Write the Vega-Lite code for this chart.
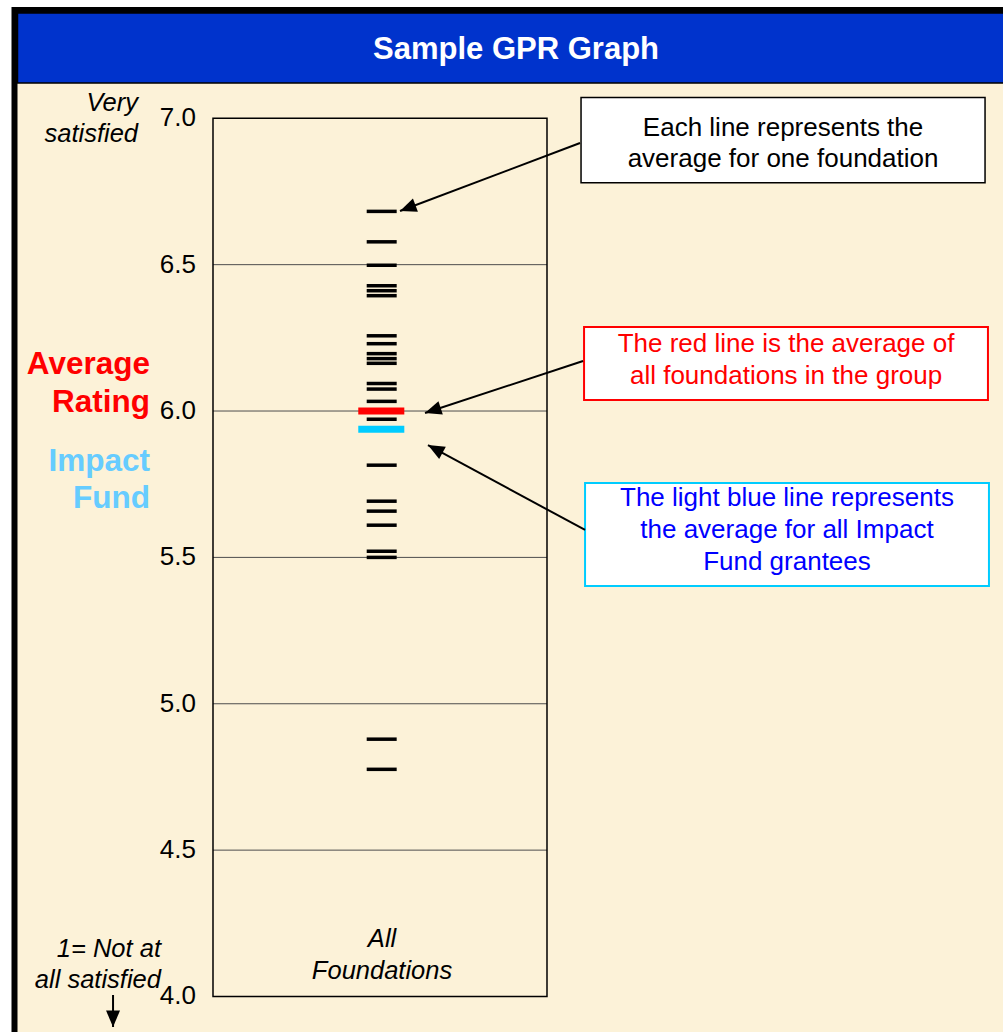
{
  "$schema": "https://vega.github.io/schema/vega-lite/v6.json",
  "width": 1003,
  "height": 1032,
  "autosize": {"type": "none"},
  "padding": 0,
  "background": "white",
  "config": {"view": {"stroke": null}, "font": "Liberation Sans"},
  "encoding": {
    "x": {"field": "x", "type": "quantitative", "scale": {"domain": [0, 100], "nice": false, "zero": false}, "axis": null},
    "y": {"field": "y", "type": "quantitative", "scale": {"domain": [3.8787, 7.4041], "nice": false, "zero": false}, "axis": null}
  },
  "layer": [
    {
      "data": {"values": [{"x": 1.446, "x2": 100.7, "y": 7.3699, "y2": 3.8514}]},
      "mark": {"type": "rect", "fill": "#FCF2D8", "stroke": "#000000", "strokeWidth": 6},
      "encoding": {"x2": {"field": "x2"}, "y2": {"field": "y2"}}
    },
    {
      "data": {"values": [{"x": 1.745, "x2": 100.7, "y": 7.3597, "y2": 7.1206}]},
      "mark": {"type": "rect", "fill": "#0033CC", "stroke": "#000000", "strokeWidth": 1.5},
      "encoding": {"x2": {"field": "x2"}, "y2": {"field": "y2"}}
    },
    {
      "data": {"values": [{"x": 51.45, "y": 7.2333, "label": "Sample GPR Graph"}]},
      "mark": {"type": "text", "color": "white", "fontSize": 31, "fontWeight": "bold", "align": "center", "baseline": "middle"},
      "encoding": {"text": {"field": "label"}}
    },
    {
      "data": {"values": [
        {"x": 21.236, "x2": 54.536, "y": 6.5},
        {"x": 21.236, "x2": 54.536, "y": 6.0},
        {"x": 21.236, "x2": 54.536, "y": 5.5},
        {"x": 21.236, "x2": 54.536, "y": 5.0},
        {"x": 21.236, "x2": 54.536, "y": 4.5}
      ]},
      "mark": {"type": "rule", "color": "#4d4d4d", "strokeWidth": 1},
      "encoding": {"x2": {"field": "x2"}}
    },
    {
      "data": {"values": [{"x": 21.236, "x2": 54.536, "y": 7.0, "y2": 4.0}]},
      "mark": {"type": "rect", "fill": null, "fillOpacity": 0, "stroke": "#000000", "strokeWidth": 1.5},
      "encoding": {"x2": {"field": "x2"}, "y2": {"field": "y2"}}
    },
    {
      "data": {"values": [
        {"x": 19.541, "y": 7.0, "label": "7.0"},
        {"x": 19.541, "y": 6.5, "label": "6.5"},
        {"x": 19.541, "y": 6.0, "label": "6.0"},
        {"x": 19.541, "y": 5.5, "label": "5.5"},
        {"x": 19.541, "y": 5.0, "label": "5.0"},
        {"x": 19.541, "y": 4.5, "label": "4.5"},
        {"x": 19.541, "y": 4.0, "label": "4.0"}
      ]},
      "mark": {"type": "text", "color": "#000000", "fontSize": 26, "align": "right", "baseline": "middle"},
      "encoding": {"text": {"field": "label"}}
    },
    {
      "data": {"values": [
        {"x": 36.56, "x2": 39.55, "y": 6.682}, {"x": 36.56, "x2": 39.55, "y": 6.578},
        {"x": 36.56, "x2": 39.55, "y": 6.498}, {"x": 36.56, "x2": 39.55, "y": 6.428},
        {"x": 36.56, "x2": 39.55, "y": 6.411}, {"x": 36.56, "x2": 39.55, "y": 6.394},
        {"x": 36.56, "x2": 39.55, "y": 6.257}, {"x": 36.56, "x2": 39.55, "y": 6.230},
        {"x": 36.56, "x2": 39.55, "y": 6.196}, {"x": 36.56, "x2": 39.55, "y": 6.179},
        {"x": 36.56, "x2": 39.55, "y": 6.163}, {"x": 36.56, "x2": 39.55, "y": 6.094},
        {"x": 36.56, "x2": 39.55, "y": 6.075}, {"x": 36.56, "x2": 39.55, "y": 6.033},
        {"x": 36.56, "x2": 39.55, "y": 5.972}, {"x": 36.56, "x2": 39.55, "y": 5.815},
        {"x": 36.56, "x2": 39.55, "y": 5.692}, {"x": 36.56, "x2": 39.55, "y": 5.658},
        {"x": 36.56, "x2": 39.55, "y": 5.610}, {"x": 36.56, "x2": 39.55, "y": 5.521},
        {"x": 36.56, "x2": 39.55, "y": 5.500}, {"x": 36.56, "x2": 39.55, "y": 4.879},
        {"x": 36.56, "x2": 39.55, "y": 4.776}
      ]},
      "mark": {"type": "rule", "color": "#000000", "strokeWidth": 3.5},
      "encoding": {"x2": {"field": "x2"}}
    },
    {
      "data": {"values": [{"x": 35.72, "x2": 40.31, "y": 6.0}]},
      "mark": {"type": "rule", "color": "#FF0000", "strokeWidth": 7},
      "encoding": {"x2": {"field": "x2"}}
    },
    {
      "data": {"values": [{"x": 35.72, "x2": 40.31, "y": 5.938}]},
      "mark": {"type": "rule", "color": "#00CCFF", "strokeWidth": 7},
      "encoding": {"x2": {"field": "x2"}}
    },
    {
      "data": {"values": [{"x": 13.76, "y": 7.0523, "label": "Very\nsatisfied"}]},
      "mark": {"type": "text", "color": "#000000", "fontSize": 25.5, "fontStyle": "italic", "align": "right", "baseline": "middle", "lineBreak": "\n", "lineHeight": 31},
      "encoding": {"text": {"field": "label"}}
    },
    {
      "data": {"values": [{"x": 14.955, "y": 6.1572, "label": "Average\nRating"}]},
      "mark": {"type": "text", "color": "#FF0000", "fontSize": 31.5, "fontWeight": "bold", "align": "right", "baseline": "middle", "lineBreak": "\n", "lineHeight": 38},
      "encoding": {"text": {"field": "label"}}
    },
    {
      "data": {"values": [{"x": 14.955, "y": 5.8259, "label": "Impact\nFund"}]},
      "mark": {"type": "text", "color": "#66CCFF", "fontSize": 31.5, "fontWeight": "bold", "align": "right", "baseline": "middle", "lineBreak": "\n", "lineHeight": 37},
      "encoding": {"text": {"field": "label"}}
    },
    {
      "data": {"values": [{"x": 16.05, "y": 4.1622, "label": "1= Not at\nall satisfied"}]},
      "mark": {"type": "text", "color": "#000000", "fontSize": 25.5, "fontStyle": "italic", "align": "right", "baseline": "middle", "lineBreak": "\n", "lineHeight": 31},
      "encoding": {"text": {"field": "label"}}
    },
    {
      "data": {"values": [{"x": 38.09, "y": 4.1965, "label": "All\nFoundations"}]},
      "mark": {"type": "text", "color": "#000000", "fontSize": 25.5, "fontStyle": "italic", "align": "center", "baseline": "middle", "lineBreak": "\n", "lineHeight": 32},
      "encoding": {"text": {"field": "label"}}
    },
    {
      "data": {"values": [{"x": 57.93, "x2": 98.21, "y": 7.0710, "y2": 6.7800}]},
      "mark": {"type": "rect", "fill": "#FFFFFF", "stroke": "#000000", "strokeWidth": 1.5},
      "encoding": {"x2": {"field": "x2"}, "y2": {"field": "y2"}}
    },
    {
      "data": {"values": [{"x": 58.23, "x2": 98.50, "y": 6.2870, "y2": 6.0377}]},
      "mark": {"type": "rect", "fill": "#FFFFFF", "stroke": "#FF0000", "strokeWidth": 2},
      "encoding": {"x2": {"field": "x2"}, "y2": {"field": "y2"}}
    },
    {
      "data": {"values": [{"x": 58.33, "x2": 98.60, "y": 5.7541, "y2": 5.4022}]},
      "mark": {"type": "rect", "fill": "#FFFFFF", "stroke": "#00CCFF", "strokeWidth": 2},
      "encoding": {"x2": {"field": "x2"}, "y2": {"field": "y2"}}
    },
    {
      "data": {"values": [{"x": 78.07, "y": 6.9669, "label": "Each line represents the\naverage for one foundation"}]},
      "mark": {"type": "text", "color": "#000000", "fontSize": 26, "align": "center", "baseline": "middle", "lineBreak": "\n", "lineHeight": 31},
      "encoding": {"text": {"field": "label"}}
    },
    {
      "data": {"values": [{"x": 78.37, "y": 6.2290, "label": "The red line is the average of\nall foundations in the group"}]},
      "mark": {"type": "text", "color": "#FF0000", "fontSize": 26, "align": "center", "baseline": "middle", "lineBreak": "\n", "lineHeight": 32},
      "encoding": {"text": {"field": "label"}}
    },
    {
      "data": {"values": [{"x": 78.46, "y": 5.7029, "label": "The light blue line represents\nthe average for all Impact\nFund grantees"}]},
      "mark": {"type": "text", "color": "#0000FF", "fontSize": 26, "align": "center", "baseline": "middle", "lineBreak": "\n", "lineHeight": 32},
      "encoding": {"text": {"field": "label"}}
    },
    {
      "data": {"values": [
        {"x": 57.83, "y": 6.9156, "x2": 39.88, "y2": 6.6833},
        {"x": 58.13, "y": 6.1709, "x2": 42.37, "y2": 5.9933},
        {"x": 58.33, "y": 5.5936, "x2": 42.67, "y2": 5.8839},
        {"x": 11.27, "y": 4.0051, "x2": 11.27, "y2": 3.8958}
      ]},
      "mark": {"type": "rule", "color": "#000000", "strokeWidth": 2},
      "encoding": {"x2": {"field": "x2"}, "y2": {"field": "y2"}}
    },
    {
      "data": {"values": [{"x": 39.88, "y": 6.6833}]},
      "mark": {"type": "point", "shape": "M0,0L0.7,1.65L-0.7,1.65Z", "filled": true, "color": "#000000", "opacity": 1, "size": 400, "angle": 249.3}
    },
    {
      "data": {"values": [{"x": 42.37, "y": 5.9933}]},
      "mark": {"type": "point", "shape": "M0,0L0.7,1.65L-0.7,1.65Z", "filled": true, "color": "#000000", "opacity": 1, "size": 400, "angle": 251.8}
    },
    {
      "data": {"values": [{"x": 42.67, "y": 5.8839}]},
      "mark": {"type": "point", "shape": "M0,0L0.7,1.65L-0.7,1.65Z", "filled": true, "color": "#000000", "opacity": 1, "size": 400, "angle": 298.4}
    },
    {
      "data": {"values": [{"x": 11.27, "y": 3.8958}]},
      "mark": {"type": "point", "shape": "M0,0L0.7,1.65L-0.7,1.65Z", "filled": true, "color": "#000000", "opacity": 1, "size": 400, "angle": 180}
    }
  ]
}
